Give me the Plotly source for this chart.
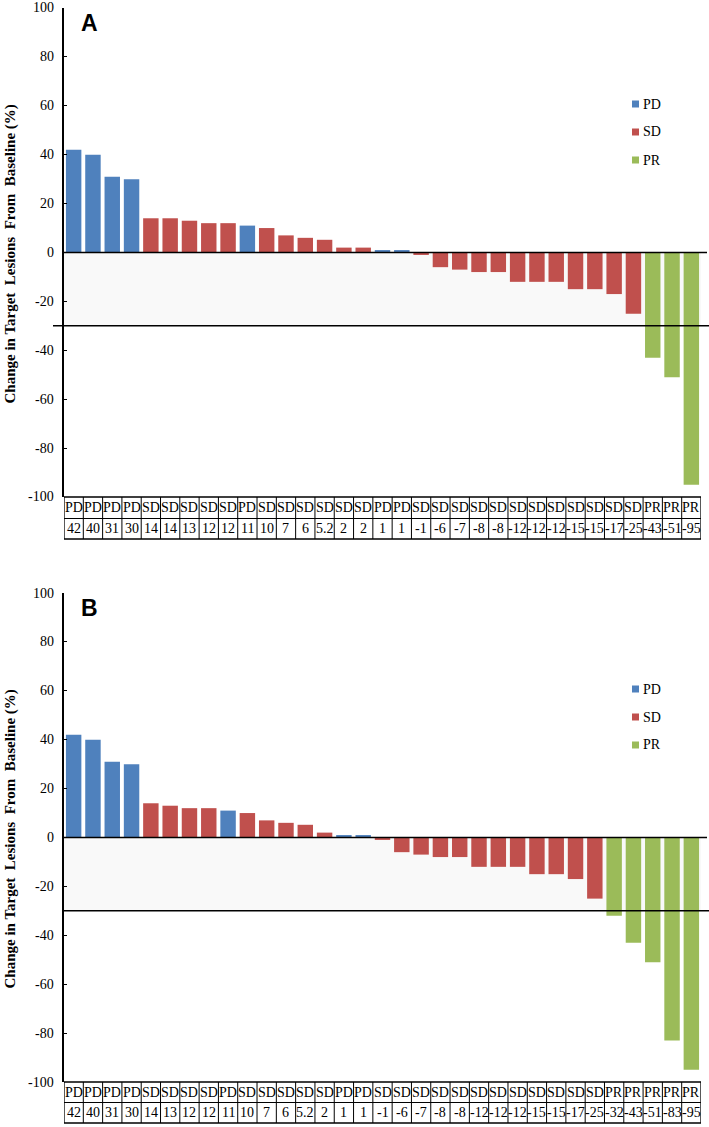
import plotly.graph_objects as go

W, H = 709, 1127

# ---------------- data ----------------
cats_a = ["PD", "PD", "PD", "PD", "SD", "SD", "SD", "SD", "SD", "PD", "SD", "SD", "SD", "SD", "SD", "SD",
          "PD", "PD", "SD", "SD", "SD", "SD", "SD", "SD", "SD", "SD", "SD", "SD", "SD", "SD", "PR", "PR", "PR"]
vals_a = [42, 40, 31, 30, 14, 14, 13, 12, 12, 11, 10, 7, 6, 5.2, 2, 2,
          1, 1, -1, -6, -7, -8, -8, -12, -12, -12, -15, -15, -17, -25, -43, -51, -95]

cats_b = ["PD", "PD", "PD", "PD", "SD", "SD", "SD", "SD", "PD", "SD", "SD", "SD", "SD", "SD", "PD", "PD",
          "SD", "SD", "SD", "SD", "SD", "SD", "SD", "SD", "SD", "SD", "SD", "SD", "PR", "PR", "PR", "PR", "PR"]
vals_b = [42, 40, 31, 30, 14, 13, 12, 12, 11, 10, 7, 6, 5.2, 2, 1, 1,
          -1, -6, -7, -8, -8, -12, -12, -12, -15, -15, -17, -25, -32, -43, -51, -83, -95]

legend_labels = ["PD", "SD", "PR"]
colors = {"PD": "#4F81BD", "SD": "#C0504D", "PR": "#9BBB59"}
tick_vals = [100, 80, 60, 40, 20, 0, -20, -40, -60, -80, -100]
tick_text = ["100", "80", "60", "40", "20", "0", "-20", "-40", "-60", "-80", "-100"]
threshold = -30
ytitle = "Change in Target&nbsp; Lesions&nbsp; From&nbsp; Baseline (%)"

# ---------------- layout helpers (page pixel -> paper) ----------------
def py(p):
    return 1 - p / H

def px(p):
    return p / W

x0_pix, x1_pix = 64, 701
panels = [
    dict(cats=cats_a, vals=vals_a, top=8, bot=497, rows=(497, 518.5, 539), label="A", thr_x0=53),
    dict(cats=cats_b, vals=vals_b, top=593, bot=1082, rows=(1082, 1102.5, 1123), label="B", thr_x0=64),
]

serif = "Liberation Serif"
fig = go.Figure()
shapes = []
annotations = []

for k, p in enumerate(panels):
    xa = "x" if k == 0 else "x2"
    ya = "y" if k == 0 else "y2"
    n = len(p["vals"])
    fig.add_trace(go.Bar(
        x=list(range(n)), y=p["vals"],
        marker=dict(color=[colors[c] for c in p["cats"]], line=dict(width=0)),
        width=0.8, xaxis=xa, yaxis=ya, showlegend=False,
        hoverinfo="y",
    ))
    # light band between 0 and threshold
    shapes.append(dict(type="rect", xref=xa + " domain", yref=ya, x0=0, x1=1, y0=threshold, y1=0,
                       fillcolor="#f9f9f9", line=dict(width=0), layer="below"))
    # zero line
    shapes.append(dict(type="line", xref="paper", yref=ya, x0=px(64), x1=px(707), y0=0, y1=0,
                       line=dict(color="black", width=1.5)))
    # threshold line
    shapes.append(dict(type="line", xref="paper", yref=ya, x0=px(p["thr_x0"]), x1=1,
                       y0=threshold, y1=threshold, line=dict(color="black", width=1.5)))
    # y tick labels (serif)
    for tv, tt in zip(tick_vals, tick_text):
        annotations.append(dict(x=px(56), y=tv, xref="paper", yref=ya, text=tt, showarrow=False,
                                font=dict(family=serif, size=14, color="black"),
                                xanchor="right", yanchor="middle"))
    # table
    r0, r1, r2 = p["rows"]
    shapes.append(dict(type="rect", xref=xa, yref="paper", x0=-0.5, x1=n - 0.5, y0=py(r2), y1=py(r0),
                       line=dict(color="black", width=1.3)))
    shapes.append(dict(type="line", xref=xa, yref="paper", x0=-0.5, x1=n - 0.5, y0=py(r1), y1=py(r1),
                       line=dict(color="black", width=1.2)))
    for i in range(1, n):
        shapes.append(dict(type="line", xref=xa, yref="paper", x0=i - 0.5, x1=i - 0.5, y0=py(r2), y1=py(r0),
                           line=dict(color="black", width=1)))
    for i, (c, v) in enumerate(zip(p["cats"], p["vals"])):
        annotations.append(dict(x=i, y=py((r0 + r1) / 2), xref=xa, yref="paper", text=c, showarrow=False,
                                font=dict(family=serif, size=14, color="black"), xanchor="center", yanchor="middle"))
        annotations.append(dict(x=i, y=py((r1 + r2) / 2), xref=xa, yref="paper", text=f"{v:g}", showarrow=False,
                                font=dict(family=serif, size=14, color="black"), xanchor="center", yanchor="middle"))
    # panel label
    annotations.append(dict(x=px(89), y=py(p["top"] + 15), xref="paper", yref="paper", text="<b>%s</b>" % p["label"],
                            showarrow=False, font=dict(family="Liberation Sans", size=23, color="black"),
                            xanchor="center", yanchor="middle"))
    # y title
    annotations.append(dict(x=px(10), y=py((p["top"] + p["bot"]) / 2 + 2), xref="paper", yref="paper",
                            text="<b>%s</b>" % ytitle, textangle=-90, showarrow=False,
                            font=dict(family=serif, size=15, color="black"), xanchor="center", yanchor="middle"))
    # legend
    for j, lab in enumerate(legend_labels):
        yc = p["top"] + 96 + 28 * j
        shapes.append(dict(type="rect", xref="paper", yref="paper", x0=px(632), x1=px(639),
                           y0=py(yc + 3.5), y1=py(yc - 3.5), fillcolor=colors[lab], line=dict(width=0)))
        annotations.append(dict(x=px(641), y=py(yc), xref="paper", yref="paper", text=lab, showarrow=False,
                                font=dict(family=serif, size=14, color="black"), xanchor="left", yanchor="middle"))

yaxis_common = dict(range=[-100, 100], tickvals=tick_vals, showticklabels=False,
                    showgrid=False, zeroline=False, showline=True, linecolor="black", linewidth=1.5,
                    ticks="inside", ticklen=3, tickcolor="black", tickwidth=1,
                    automargin=False)
xaxis_common = dict(range=[-0.5, 32.5], showticklabels=False, showgrid=False, zeroline=False,
                    showline=False, ticks="", domain=[px(x0_pix), px(x1_pix)], automargin=False)

fig.update_layout(
    width=W, height=H,
    margin=dict(l=0, r=0, t=0, b=0, pad=0),
    font=dict(family=serif, color="black"),
    paper_bgcolor="white", plot_bgcolor="rgba(0,0,0,0)",
    bargap=0.2,
    xaxis=dict(**xaxis_common, anchor="y"),
    xaxis2=dict(**xaxis_common, anchor="y2"),
    yaxis=dict(**yaxis_common, domain=[py(panels[0]["bot"]), py(panels[0]["top"])], anchor="x"),
    yaxis2=dict(**yaxis_common, domain=[py(panels[1]["bot"]), py(panels[1]["top"])], anchor="x2"),
    shapes=shapes,
    annotations=annotations,
    showlegend=False,
)

fig.write_html("out.html",
               config={"displayModeBar": False},
               post_script="document.body.style.margin='0';document.body.style.padding='0';"
                           "document.body.style.overflow='hidden';")
